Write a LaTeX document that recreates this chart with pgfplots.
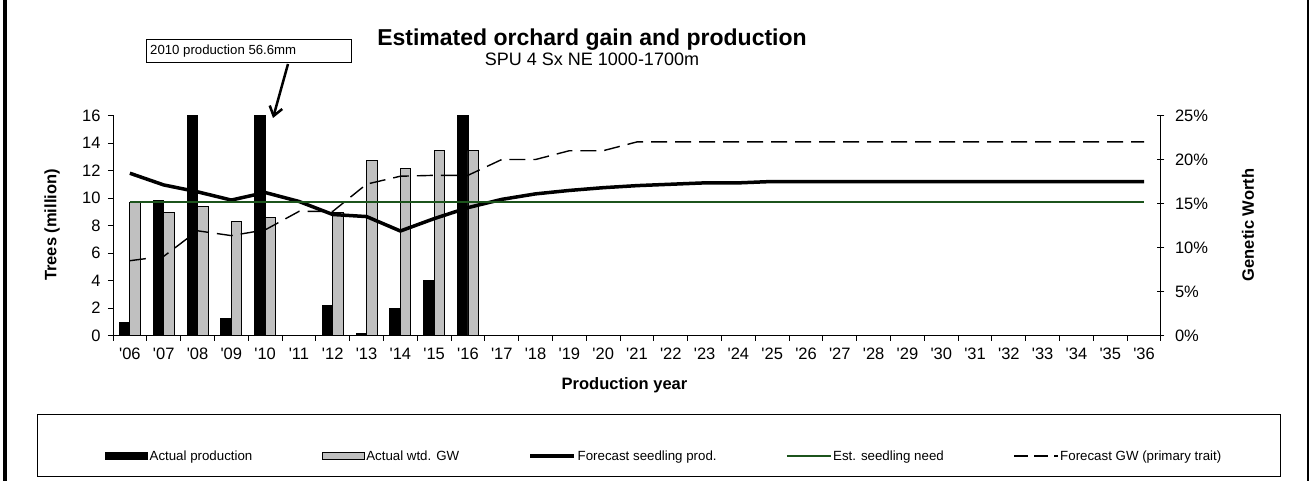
\documentclass[border=0pt]{standalone}
\usepackage{pgfplots}
\pgfplotsset{compat=1.18}
\usepackage{fontspec}
\setmainfont{Liberation Sans}
\usetikzlibrary{arrows.meta}
\definecolor{barGray}{RGB}{192,192,192}
\definecolor{needGreen}{RGB}{28,84,28}
\newcommand{\q}{\textquotesingle}
\pgfplotsset{
  base/.style={
    scale only axis, width=1048pt, height=220pt,
    at={(113pt,-335.5pt)}, anchor=south west,
    xmin=-0.5, xmax=30.5,
    /pgf/number format/assume math mode=true,
    tick label style={font=\fontsize{16.5}{18}\selectfont},
  },
}
\begin{document}
\begin{tikzpicture}
\path[use as bounding box] (0pt,0pt) rectangle (1314pt,-481pt);
\fill[black] (3pt,0pt) rectangle (7pt,-481pt);
\draw[line width=1.2pt] (1308pt,0pt) -- (1308pt,-481pt);

% black bars (left scale)
\begin{axis}[base, hide axis, ymin=0, ymax=16]
\addplot[ybar, bar width=10.5pt, bar shift=-5.25pt, fill=black, draw=black, line width=0.8pt] table {
x y
0 0.97
1 9.8
2 20
3 1.24
4 56.6
6 2.19
7 0.12
8 1.95
9 4.0
10 20
};
\end{axis}

% right scale: gray bars and forecast GW
\begin{axis}[base, ymin=0, ymax=25, axis x line=none, axis y line*=right,
  axis line style={-, line width=1pt},
  ytick={0,5,...,25}, yticklabel={\pgfmathprintnumber{\tick}\%},
  yticklabel style={xshift=7pt},
  tick align=center, major tick length=7pt, tick style={line width=1pt, black}]
\addplot[ybar, bar width=10.5pt, bar shift=5.25pt, fill=barGray, draw=black, line width=0.9pt] table {
x y
0 15.1
1 13.95
2 14.7
3 13.0
4 13.4
6 13.95
7 19.9
8 19.0
9 21.0
10 21.0
};
\addplot[black, line width=1.4pt, dash pattern=on 16pt off 8pt] table {
x y
0 8.5
1 9.0
2 11.9
3 11.35
4 12.0
5 14.1
6 14.1
7 17.2
8 18.1
9 18.2
10 18.2
11 20.0
12 20.0
13 21.0
14 21.0
15 22.0
16 22.0
17 22.0
18 22.0
19 22.0
20 22.0
21 22.0
22 22.0
23 22.0
24 22.0
25 22.0
26 22.0
27 22.0
28 22.0
29 22.0
30 22.0
};
\end{axis}

% left scale: lines, axes, legend
\begin{axis}[base, ymin=0, ymax=16,
  axis x line*=bottom, axis y line*=left,
  axis line style={-, line width=1pt},
  xtick={-0.5,0.5,...,30.5}, x tick label as interval,
  xticklabels={\q06,\q07,\q08,\q09,\q10,\q11,\q12,\q13,\q14,\q15,\q16,\q17,\q18,\q19,\q20,\q21,\q22,\q23,\q24,\q25,\q26,\q27,\q28,\q29,\q30,\q31,\q32,\q33,\q34,\q35,\q36},
  xticklabel style={yshift=-4pt},
  ytick={0,2,...,16},
  yticklabel style={xshift=-4pt},
  tick align=outside, major tick length=5pt, tick style={line width=1pt, black},
  legend columns=5,
  legend cell align=left,
  legend style={at={(axis description cs:-0.0075,-0.5477)}, anchor=west,
    draw=none, fill=none, inner sep=0pt,
    nodes={inner sep=1.5pt},
    font=\fontsize{13.3}{15}\selectfont,
    /tikz/every even column/.append style={column sep=68pt}},
]
\addlegendimage{legend image code/.code={\draw[fill=black,draw=black,line width=0.8pt] (0pt,-3.5pt) rectangle (42pt,3.5pt);}}
\addlegendimage{legend image code/.code={\draw[fill=barGray,draw=black,line width=0.9pt] (0pt,-3.5pt) rectangle (42pt,3.5pt);}}
\addplot[black, line width=3.5pt, line join=round, legend image code/.code={\draw[black,line width=3.5pt] (0pt,0pt) -- (44pt,0pt);}] table {
x y
0 11.8
1 10.95
2 10.45
3 9.85
4 10.4
5 9.75
6 8.8
7 8.65
8 7.6
9 8.5
10 9.3
11 9.9
12 10.3
13 10.55
14 10.75
15 10.9
16 11.0
17 11.1
18 11.1
19 11.2
20 11.2
21 11.2
22 11.2
23 11.2
24 11.2
25 11.2
26 11.2
27 11.2
28 11.2
29 11.2
30 11.2
};
\addplot[needGreen, line width=1.5pt, legend image code/.code={\draw[needGreen,line width=1.5pt] (0pt,0pt) -- (44pt,0pt);}] table {
x y
0 9.7
30 9.7
};
\addlegendimage{legend image code/.code={\draw[black,line width=1.4pt,dash pattern=on 14pt off 6pt] (0pt,0pt) -- (44pt,0pt);}}
\legend{Actual production, Actual wtd. GW, Forecast seedling prod., Est. seedling need, Forecast GW (primary trait)}
\end{axis}

% titles and labels
\node[anchor=base, font=\fontsize{23}{27}\selectfont\bfseries] at (592pt,-46pt) {Estimated orchard gain and production};
\node[anchor=base, font=\fontsize{18}{21}\selectfont] at (592pt,-66pt) {SPU 4 Sx NE 1000-1700m};
\node[rotate=90, font=\fontsize{16.5}{19}\selectfont\bfseries] at (52pt,-225pt) {Trees (million)};
\node[rotate=90, font=\fontsize{16.5}{19}\selectfont\bfseries] at (1248pt,-225pt) {Genetic Worth};
\node[anchor=base, font=\fontsize{16.5}{19}\selectfont\bfseries] at (624.5pt,-389pt) {Production year};

% annotation
\draw[line width=1pt] (146pt,-39.5pt) rectangle (351pt,-62.5pt);
\node[anchor=west, inner sep=0pt, font=\fontsize{13.2}{15}\selectfont] at (150pt,-51.5pt) {2010 production 56.6mm};
\draw[line width=2.5pt, -{Straight Barb[length=9pt,width=13pt]}] (288pt,-64pt) -- (273pt,-118pt);

% legend frame
\draw[line width=1pt] (37pt,-414pt) rectangle (1280pt,-476pt);
\end{tikzpicture}
\end{document}
